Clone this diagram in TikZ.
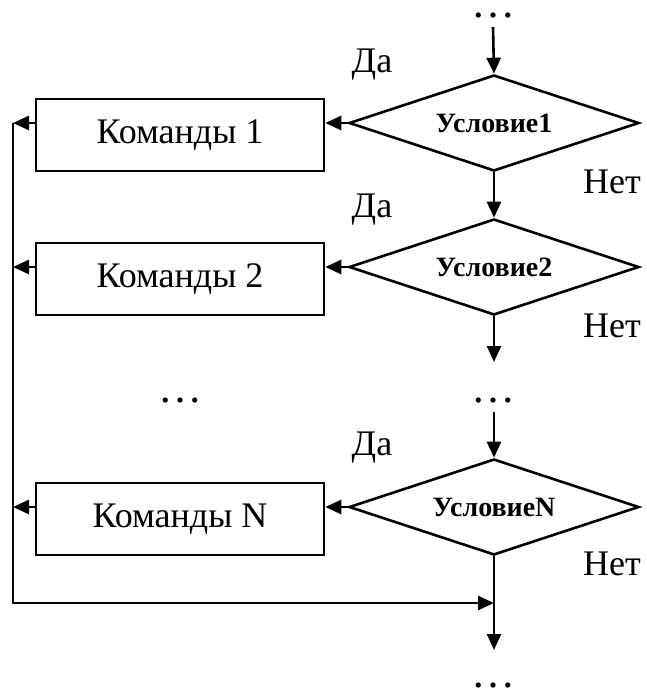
\documentclass[tikz,border=0pt]{standalone}
\usepackage{fontspec}
\setmainfont{Liberation Serif}
\usetikzlibrary{shapes.geometric,arrows.meta}
\begin{document}
\begin{tikzpicture}[x=1pt,y=-1pt,
  line width=2.6pt,
  box/.style={draw, rectangle, minimum width=288pt, minimum height=72pt, inner sep=0pt, font=\fontsize{36}{40}\selectfont},
  cond/.style={draw, diamond, aspect=3, inner sep=0pt, minimum width=290pt, minimum height=96pt, font=\fontsize{28}{32}\selectfont\bfseries},
  lbl/.style={font=\fontsize{36}{40}\selectfont, anchor=base, inner sep=0pt},
  dotsl/.style={font=\fontsize{44}{48}\selectfont, anchor=base, inner sep=0pt},
  arr/.style={-{Triangle[length=16pt,width=14pt]}},
]
\useasboundingbox (0,0) rectangle (647,691);

% decisions
\node[cond] (c1) at (494,123) {Условие1};
\node[cond] (c2) at (494,267) {Условие2};
\node[cond] (cN) at (494,507) {УсловиеN};

% command boxes
\node[box] (b1) at (180,135) {Команды 1};
\node[box] (b2) at (180,279) {Команды 2};
\node[box] (bN) at (180,519) {Команды N};

% dots
\node[dotsl] (d0) at (493,17) {…};
\node[dotsl] (dL) at (180,402) {…};
\node[dotsl] (dR) at (493,402) {…};
\node[dotsl] (dB) at (493,687) {…};

% labels
\node[lbl] (y1) at (372,72) {Да};
\node[lbl] (y2) at (372,217) {Да};
\node[lbl] (yN) at (372,455) {Да};
\node[lbl] (n1) at (612,193) {Нет};
\node[lbl] (n2) at (612,337) {Нет};
\node[lbl] (nN) at (612,575) {Нет};

% free ends
\coordinate (in0) at (493,27);
\coordinate (out2) at (494,362);
\coordinate (inN) at (494,412);
\coordinate (outN) at (494,650);
\coordinate (railtop) at (13,123);
\coordinate (railbot) at (13,603);

% flow down the right
\draw[arr] (in0) -- (c1.north);
\draw[arr] (c1.south) -- (c2.north);
\draw[arr] (c2.south) -- (out2);
\draw[arr] (inN) -- (cN.north);
\draw[arr] (cN.south) -- (outN);

% yes branches
\draw[arr] (c1.west) -- (c1.west -| b1.east);
\draw[arr] (c2.west) -- (c2.west -| b2.east);
\draw[arr] (cN.west) -- (cN.west -| bN.east);

% to the rail
\draw[arr] (b1.west |- c1.west) -- (railtop |- c1.west);
\draw[arr] (b2.west |- c2.west) -- (railtop |- c2.west);
\draw[arr] (bN.west |- cN.west) -- (railtop |- cN.west);

% rail and return
\draw[arr] (railtop) -- (railbot) -- (railbot -| cN.south);
\end{tikzpicture}
\end{document}
